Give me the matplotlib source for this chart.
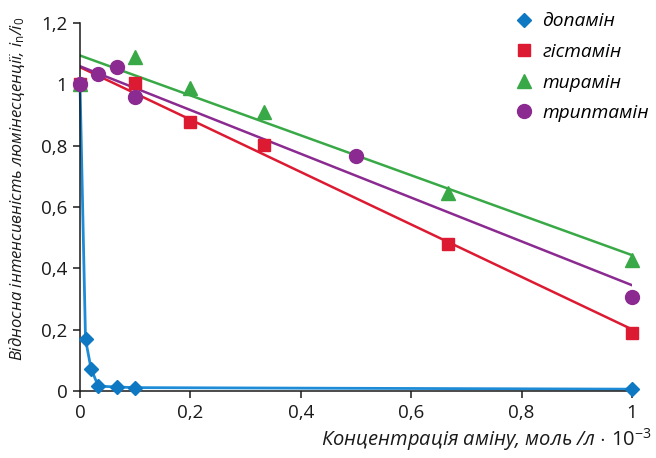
import matplotlib
matplotlib.use("Agg")
import matplotlib.pyplot as plt
from matplotlib.ticker import FuncFormatter
from matplotlib.lines import Line2D

plt.rcParams['font.family'] = ['Open Sans', 'DejaVu Sans']
plt.rcParams['mathtext.fontset'] = 'custom'
plt.rcParams['mathtext.rm'] = 'Open Sans'
plt.rcParams['mathtext.it'] = 'Open Sans:italic'

# Data
labels = ['допамін', 'гістамін', 'тирамін', 'триптамін']

dop_x = [0, 0.01, 0.02, 0.033, 0.067, 0.1, 1.0]
dop_y = [1.0, 0.168, 0.073, 0.016, 0.013, 0.011, 0.006]

his_x = [0, 0.1, 0.2, 0.333, 0.667, 1.0]
his_y = [1.0, 1.005, 0.878, 0.803, 0.478, 0.19]

tyr_x = [0, 0.1, 0.2, 0.333, 0.667, 1.0]
tyr_y = [1.0, 1.09, 0.989, 0.91, 0.646, 0.428]

try_x = [0, 0.033, 0.067, 0.1, 0.5, 1.0]
try_y = [1.0, 1.033, 1.057, 0.96, 0.766, 0.308]

# Trend lines (x endpoints, y endpoints)
trend_x = [0, 1.0]
his_trend = [1.056, 0.201]
tyr_trend = [1.094, 0.443]
try_trend = [1.059, 0.345]

xticks = [0, 0.2, 0.4, 0.6, 0.8, 1.0]
yticks = [0, 0.2, 0.4, 0.6, 0.8, 1.0, 1.2]

c_blue_m = '#0f78c2'
c_blue_l = '#1d8bd6'
c_red = '#dc1a32'
c_green = '#38a946'
c_purple = '#8b2a90'

fig = plt.figure(figsize=(6.56, 4.58), dpi=100)
ax = fig.add_axes([80/656, 1-391/458, 552/656, 368/458])

ax.plot(dop_x, dop_y, color=c_blue_l, lw=2.0, zorder=2, clip_on=False)
ax.plot(dop_x, dop_y, ls='none', marker='D', ms=7.5, color=c_blue_m, zorder=3, clip_on=False)

ax.plot(trend_x, his_trend, color=c_red, lw=1.8, zorder=2)
ax.plot(his_x, his_y, ls='none', marker='s', ms=8.5, color=c_red, zorder=4, clip_on=False)

ax.plot(trend_x, tyr_trend, color=c_green, lw=1.8, zorder=2)
ax.plot(tyr_x, tyr_y, ls='none', marker='^', ms=10, color=c_green, zorder=4, clip_on=False)

ax.plot(trend_x, try_trend, color=c_purple, lw=1.8, zorder=2)
ax.plot(try_x, try_y, ls='none', marker='o', ms=10, color=c_purple, zorder=5, clip_on=False)

ax.set_xlim(0, 1.0)
ax.set_ylim(0, 1.2)
ax.set_xticks(xticks)
ax.set_yticks(yticks)

fmt = FuncFormatter(lambda v, p: ('%g' % round(v, 2)).replace('.', ','))
ax.xaxis.set_major_formatter(fmt)
ax.yaxis.set_major_formatter(fmt)

for s in ['top', 'right']:
    ax.spines[s].set_visible(False)
for s in ['left', 'bottom']:
    ax.spines[s].set_linewidth(1.1)
    ax.spines[s].set_color('#1a1a1a')
ax.tick_params(direction='out', length=5, width=1.1, labelsize=13.5, colors='#1a1a1a', pad=4)

fig.text(652/656, 1-440/458, 'Концентрація аміну, моль /л $\\mathrm{\\cdot\\ 10^{-3}}$',
         ha='right', va='center', fontsize=14.5, style='italic', color='#1a1a1a')
fig.text(17/656, 1-189/458, 'Відносна інтенсивність люмінесценції, i$_{\\mathrm{n}}$/i$_{\\mathrm{0}}$',
         ha='center', va='center', rotation=90, fontsize=12, style='italic', color='#1a1a1a')

handles = [
    Line2D([], [], ls='none', marker='D', ms=7.5, color=c_blue_m),
    Line2D([], [], ls='none', marker='s', ms=8.5, color=c_red),
    Line2D([], [], ls='none', marker='^', ms=10, color=c_green),
    Line2D([], [], ls='none', marker='o', ms=10, color=c_purple),
]
leg = fig.legend(handles, labels, loc='upper left', bbox_to_anchor=(497/656, 1+5/458),
                 frameon=False, handlelength=1.0, handletextpad=0.45, labelspacing=0.66,
                 prop={'size': 13.8, 'style': 'italic'})

fig.savefig('out.png', dpi=100)
